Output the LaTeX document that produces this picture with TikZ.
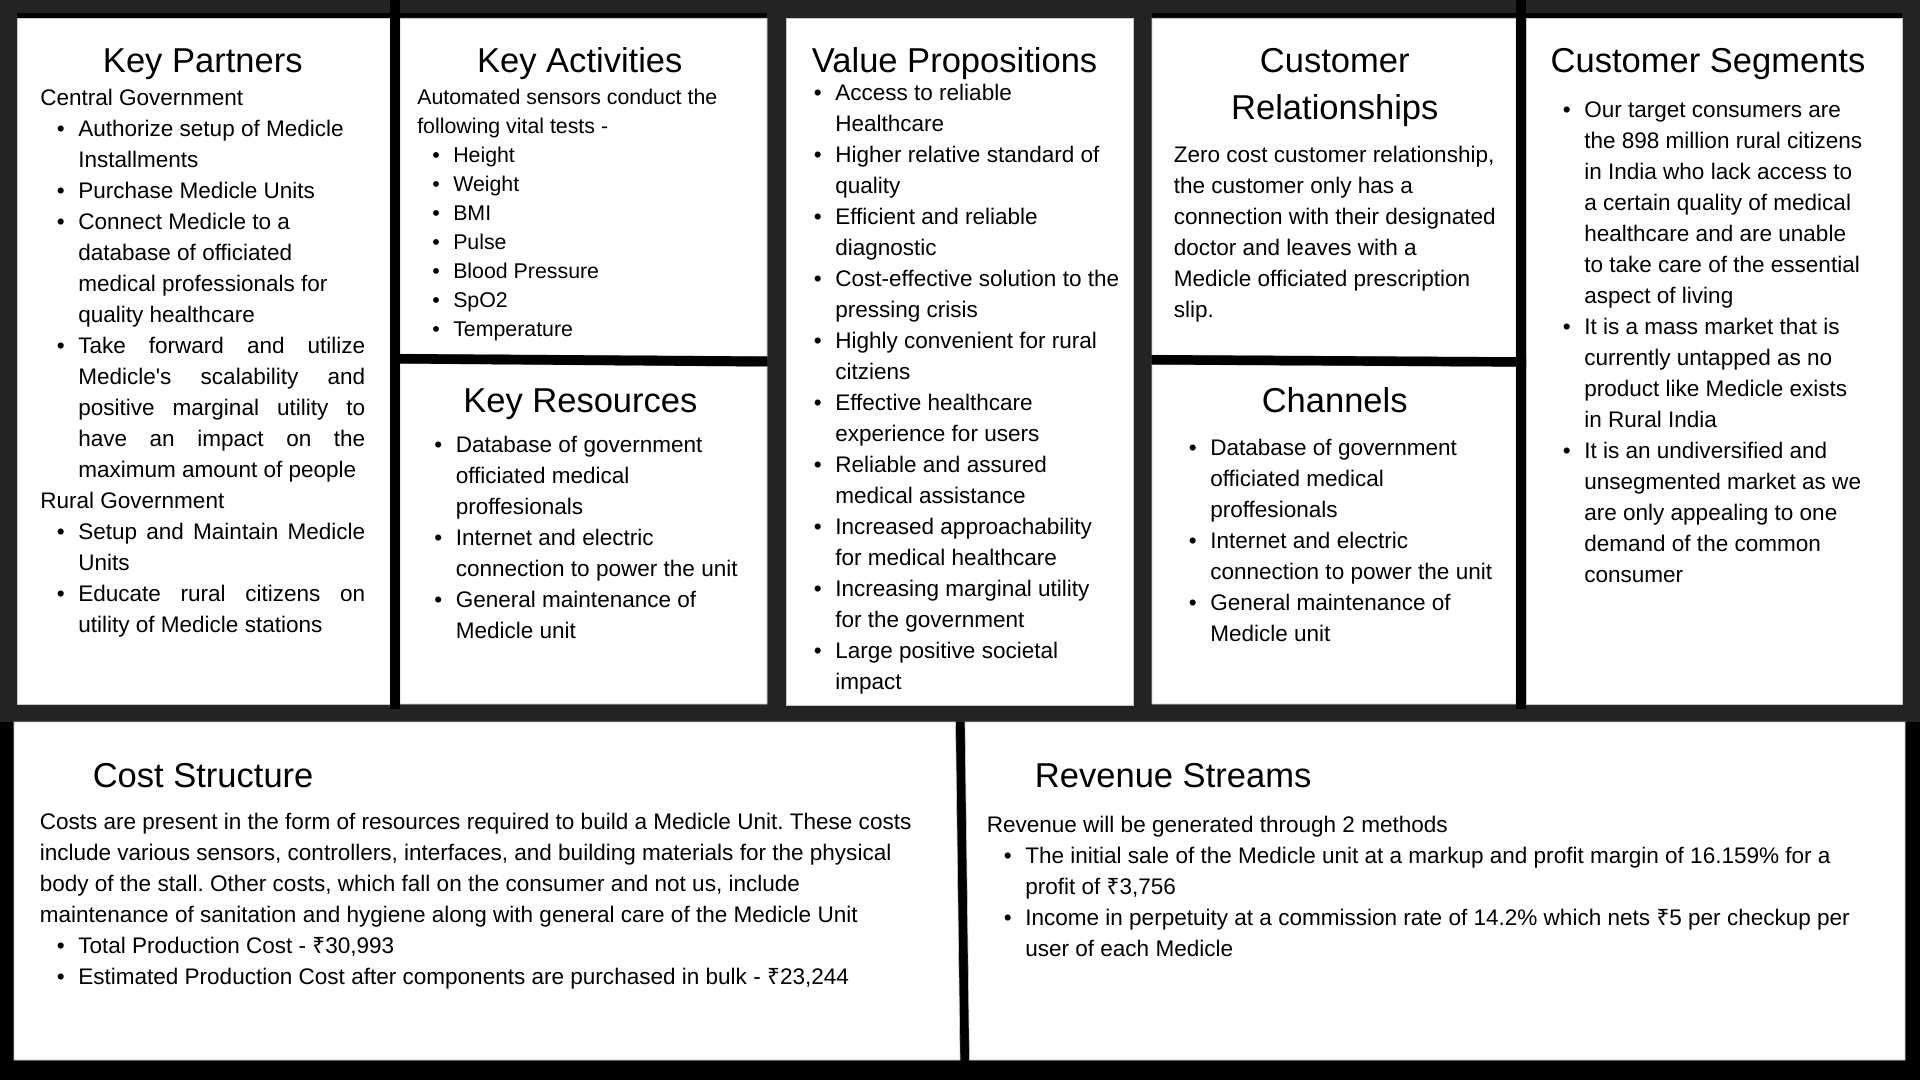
\documentclass[tikz,border=0pt]{standalone}
\usepackage{fontspec}
\setmainfont{Liberation Sans}
\newfontfamily\rupeefont{Noto Sans}
\newcommand\rupee{{\rupeefont ₹}}
\frenchspacing
% one pixel of the canvas
\newlength\px
\setlength\px{0.75pt}
\newcommand\titlefont{\fontsize{25.9pt}{35.6pt}\selectfont}
\newcommand\bodyfont{\fontsize{16.9pt}{23.25pt}\selectfont}
\newcommand\smallbody{\fontsize{16pt}{21.75pt}\selectfont}
% bullet hung to the left of the text column
\newcommand\bl{\leavevmode\llap{\textbullet\hspace{13.5\px}}}
% a line spread to a fixed width
\newcommand\jl[2]{\makebox[#1\px][s]{#2}}
% a line set out to the left of the text column
\newcommand\outd[1]{\hspace*{-#1\px}}
\definecolor{frame}{HTML}{232323}
\definecolor{edge}{HTML}{C8C8C8}
\tikzset{
  panel/.style={fill=white, draw=edge, line width=0.5pt},
  divider/.style={fill=black},
  heading/.style={anchor=base, inner sep=0pt, font=\titlefont},
  body/.style={anchor=base west, inner sep=0pt, font=\bodyfont},
}
\begin{document}
\begin{tikzpicture}[x=0.75pt, y=-0.75pt]
\useasboundingbox (0,0) rectangle (1920,1080);
% background: dark frame over the top row, black below
\fill[black] (0,0) rectangle (1920,1080);
\fill[frame] (0,0) rectangle (1920,722);
\fill[divider] (17,12.7) rectangle (767,18.3);
\fill[divider] (1152,12.7) rectangle (1902,18.3);
% panels
\path[panel] (17,18.3) rectangle (390,704);                          % key partners
\path[panel] (400,18.3) -- (767,18.3) -- (767,356.5) -- (400,354) -- cycle;   % key activities
\path[panel] (400,363.5) -- (767,366.5) -- (767,704) -- (400,704) -- cycle;   % key resources
\path[panel] (786,18.3) rectangle (1133,705);                        % value propositions
\path[panel] (1152,18.3) -- (1516,18.3) -- (1516,357.3) -- (1152,355) -- cycle; % customer relationships
\path[panel] (1152,364.5) -- (1516,366.7) -- (1516,704) -- (1152,704) -- cycle; % channels
\path[panel] (1526,18.3) rectangle (1902,704);                       % customer segments
\path[panel] (14,722) -- (955.5,722) -- (960,1060) -- (14,1060) -- cycle;      % cost structure
\path[panel] (965,722) -- (1905,722) -- (1905,1060) -- (969.5,1060) -- cycle;  % revenue streams
% black dividers
\fill[divider] (390,0) rectangle (400,709);
\fill[divider] (1516,0) rectangle (1526,709);
\fill[divider] (400,354) -- (767,356.5) -- (767,366.5) -- (400,363.5) -- cycle;
\fill[divider] (1152,355) -- (1526,357.3) -- (1526,366.7) -- (1152,364.5) -- cycle;

% headings
\node[heading] (kpT) at (202.8,72.4) {Key Partners};
\node[heading] (kaT) at (579.8,72.4) {Key Activities};
\node[heading] (krT) at (580.4,412) {Key Resources};
\node[heading] (vpT) at (954.6,72.4) {Value Propositions};
\node[heading] (crT) at (1334.8,72.4) {\parbox[t]{340\px}{\centering Customer\\Relationships}};
\node[heading] (chT) at (1334.7,412) {Channels};
\node[heading] (csT) at (1708,72.4) {Customer Segments};
\node[heading, anchor=base west] (coT) at (92.5,787.9) {Cost Structure};
\node[heading, anchor=base west] (rsT) at (1034.7,787.9) {Revenue Streams};

% key partners
\node[body] (kp) at (78,105.6) {\parbox[t]{300\px}{%
\outd{38}Central Government\\
\bl Authorize setup of Medicle\\
Installments\\
\bl Purchase Medicle Units\\
\bl Connect Medicle to a\\
database of officiated\\
medical professionals for\\
quality healthcare\\
\bl\jl{287}{Take forward and utilize}\\
\jl{287}{Medicle\textquotesingle s scalability and}\\
\jl{287}{positive marginal utility to}\\
\jl{287}{have an impact on the}\\
maximum amount of people\\
\outd{38}Rural Government\\
\bl\jl{287}{Setup and Maintain Medicle}\\
Units\\
\bl\jl{287}{Educate rural citizens on}\\
utility of Medicle stations}};

% key activities
\node[body, font=\smallbody] (ka) at (453,104.2) {\parbox[t]{300\px}{%
\outd{36}Automated sensors conduct the\\
\outd{36}following vital tests -\\
\bl Height\\
\bl Weight\\
\bl BMI\\
\bl Pulse\\
\bl Blood Pressure\\
\bl SpO2\\
\bl Temperature}};

% key resources
\node[body] (kr) at (455.5,452.6) {\parbox[t]{300\px}{%
\bl Database of government\\
officiated medical\\
proffesionals\\
\bl Internet and electric\\
connection to power the unit\\
\bl General maintenance of\\
Medicle unit}};

% value propositions
\node[body] (vp) at (835,100.6) {\parbox[t]{300\px}{%
\bl Access to reliable\\
Healthcare\\
\bl Higher relative standard of\\
quality\\
\bl Efficient and reliable\\
diagnostic\\
\bl Cost-effective solution to the\\
pressing crisis\\
\bl Highly convenient for rural\\
citziens\\
\bl Effective healthcare\\
experience for users\\
\bl Reliable and assured\\
medical assistance\\
\bl Increased approachability\\
for medical healthcare\\
\bl Increasing marginal utility\\
for the government\\
\bl Large positive societal\\
impact}};

% customer relationships
\node[body] (cr) at (1173.5,162.3) {\parbox[t]{340\px}{%
Zero cost customer relationship,\\
the customer only has a\\
connection with their designated\\
doctor and leaves with a\\
Medicle officiated prescription\\
slip.}};

% channels
\node[body] (ch) at (1210,455.6) {\parbox[t]{300\px}{%
\bl Database of government\\
officiated medical\\
proffesionals\\
\bl Internet and electric\\
connection to power the unit\\
\bl General maintenance of\\
Medicle unit}};

% customer segments
\node[body] (cs) at (1584,117.4) {\parbox[t]{310\px}{%
\bl Our target consumers are\\
the 898 million rural citizens\\
in India who lack access to\\
a certain quality of medical\\
healthcare and are unable\\
to take care of the essential\\
aspect of living\\
\bl It is a mass market that is\\
currently untapped as no\\
product like Medicle exists\\
in Rural India\\
\bl It is an undiversified and\\
unsegmented market as we\\
are only appealing to one\\
demand of the common\\
consumer}};

% cost structure
\node[body] (co) at (78,829.2) {\parbox[t]{900\px}{%
\outd{38.5}Costs are present in the form of resources required to build a Medicle Unit. These costs\\
\outd{38.5}include various sensors, controllers, interfaces, and building materials for the physical\\
\outd{38.5}body of the stall. Other costs, which fall on the consumer and not us, include\\
\outd{38.5}maintenance of sanitation and hygiene along with general care of the Medicle Unit\\
\bl Total Production Cost - \rupee30,993\\
\bl Estimated Production Cost after components are purchased in bulk - \rupee23,244}};

% revenue streams
\node[body] (rs) at (1025,832.8) {\parbox[t]{880\px}{%
\outd{38.5}Revenue will be generated through 2 methods\\
\bl The initial sale of the Medicle unit at a markup and profit margin of 16.159\% for a\\
profit of \rupee3,756\\
\bl Income in perpetuity at a commission rate of 14.2\% which nets \rupee5 per checkup per\\
user of each Medicle}};
\end{tikzpicture}
\end{document}
